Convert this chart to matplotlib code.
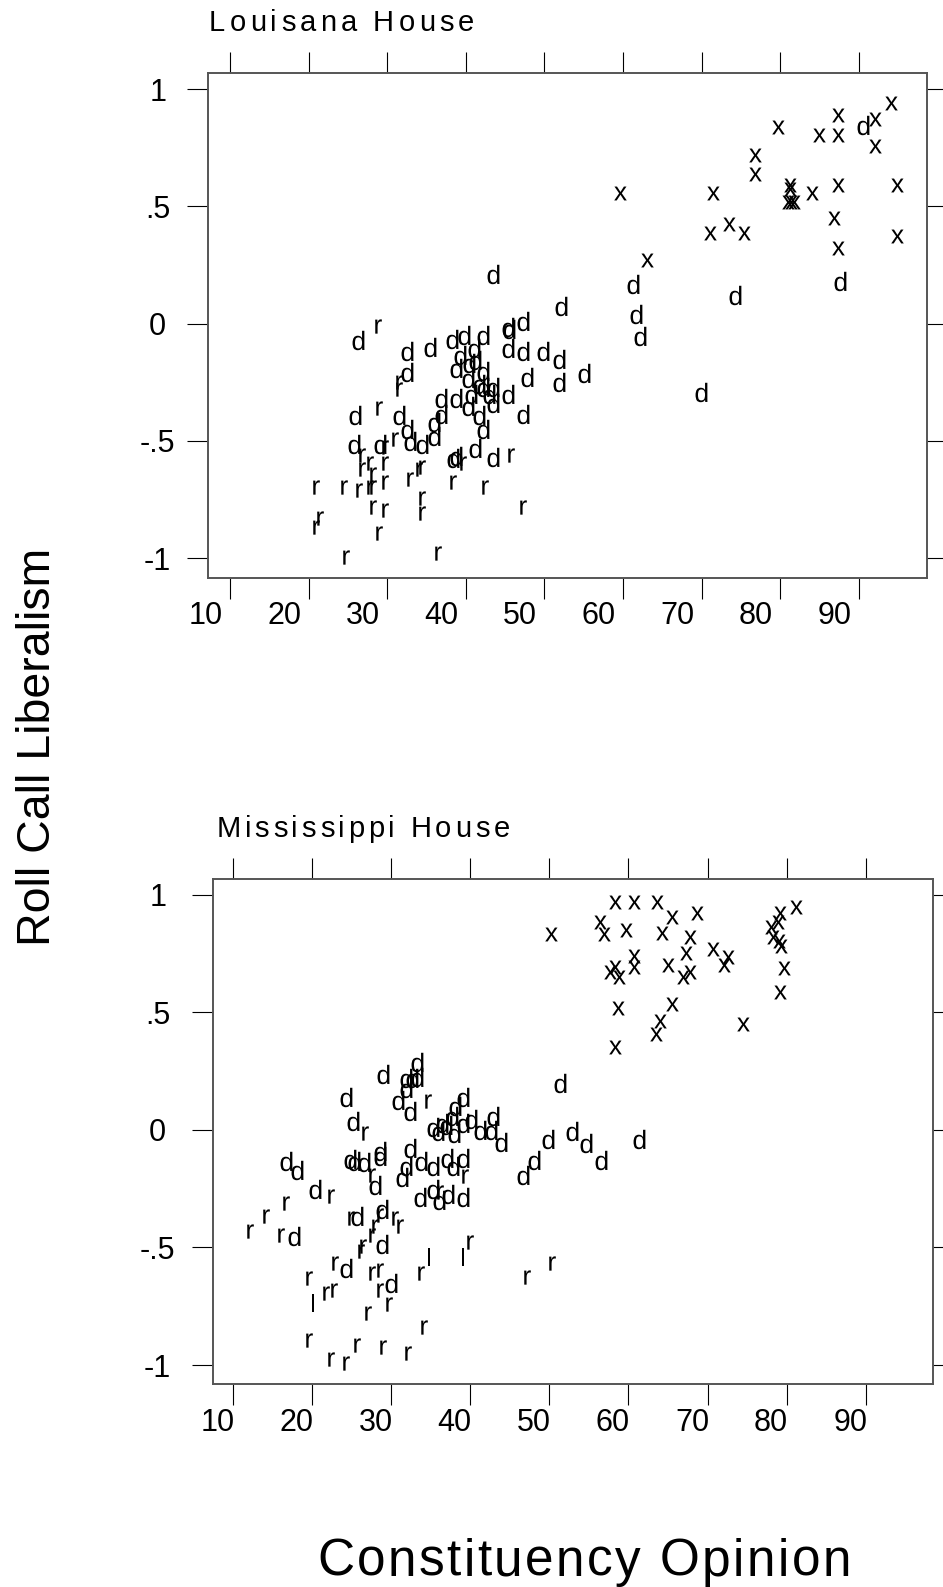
import matplotlib
matplotlib.use('Agg')
import matplotlib.pyplot as plt
from matplotlib import font_manager
from matplotlib.ft2font import FT2Font
from matplotlib.transforms import ScaledTranslation

FAMILY = 'Liberation Sans'
plt.rcParams['font.family'] = [FAMILY, 'DejaVu Sans']
plt.rcParams['mathtext.fontset'] = 'custom'
plt.rcParams['mathtext.rm'] = FAMILY

W, H, DPI = 943, 1587, 100

x_ticks = [10, 20, 30, 40, 50, 60, 70, 80, 90]
x_labels = ['10', '20', '30', '40', '50', '60', '70', '80', '90']
y_ticks = [-1, -0.5, 0, 0.5, 1]
y_labels = ['-1', '-.5', '0', '.5', '1']

# Louisana House: constituency opinion / roll call liberalism, by letter
la_d_x = [43.5, 52.1, 26.3, 32.5, 35.4, 38.3, 39.8, 42.2, 41.0, 39.3, 40.4, 41.2, 38.75, 40.3,
          42.2, 41.7, 42.2, 43.5, 43.0, 43.5, 45.4, 45.4, 45.5, 47.3, 45.4, 47.3, 49.8, 51.8,
          51.9, 55.1, 47.8, 47.3, 32.5, 25.9, 31.5, 32.5, 32.9, 34.4, 35.9, 35.9, 36.8, 36.8,
          38.75, 40.7, 40.3, 41.7, 42.2, 41.2, 43.5, 38.75, 38.4, 25.8, 29.1, 61.3, 87.6, 74.25,
          61.7, 62.1, 69.9, 90.5]
la_d_y = [0.20, 0.065, -0.08, -0.127, -0.11, -0.077, -0.059, -0.059, -0.113, -0.145, -0.178, -0.167, -0.198, -0.241,
          -0.213, -0.266, -0.28, -0.28, -0.312, -0.347, -0.312, -0.027, -0.035, 0.0, -0.113, -0.127, -0.127, -0.16,
          -0.26, -0.22, -0.24, -0.397, -0.215, -0.40, -0.40, -0.46, -0.51, -0.525, -0.49, -0.428, -0.396, -0.326,
          -0.326, -0.312, -0.361, -0.40, -0.46, -0.542, -0.58, -0.575, -0.585, -0.525, -0.525, 0.16, 0.17, 0.112,
          0.03, -0.063, -0.30, 0.835]
la_r_x = [28.8, 31.5, 31.5, 28.9, 31.0, 45.8, 39.7, 26.8, 29.7, 27.8, 26.75, 28.15, 29.7, 29.7, 27.8,
          28.2, 26.45, 24.5, 21.0, 32.9, 34.0, 34.4, 38.4, 42.4, 34.4, 34.4, 28.15, 29.7, 21.45, 20.9,
          28.9, 47.3, 24.8, 36.4]
la_r_y = [-0.01, -0.25, -0.28, -0.361, -0.49, -0.56, -0.596, -0.56, -0.525, -0.596, -0.62, -0.64, -0.596, -0.674, -0.695,
          -0.695, -0.71, -0.695, -0.695, -0.66, -0.62, -0.61, -0.674, -0.695, -0.745, -0.809, -0.781, -0.795, -0.83, -0.866,
          -0.894, -0.781, -0.994, -0.977]
la_x_x = [94.05, 87.3, 92.1, 79.7, 85.0, 87.3, 92.1, 76.8, 76.8, 59.6, 71.5, 81.2, 81.2, 81.0, 81.4,
          81.8, 84.0, 87.3, 94.9, 86.8, 94.9, 87.3, 71.07, 73.5, 75.4, 63.0]
la_x_y = [0.942, 0.889, 0.871, 0.84, 0.804, 0.804, 0.757, 0.72, 0.638, 0.558, 0.558, 0.59, 0.575, 0.52, 0.52,
          0.52, 0.555, 0.59, 0.59, 0.449, 0.373, 0.321, 0.388, 0.425, 0.388, 0.271]

# Mississippi House
ms_d_x = [33.25, 29.0, 31.9, 32.6, 33.25, 31.9, 24.3, 30.9, 32.4, 38.1, 39.1, 25.2, 35.35, 35.9, 36.5,
          37.0, 37.7, 38.0, 39.15, 40.1, 41.3, 42.7, 42.85, 43.9, 32.4, 24.8, 25.3, 26.6, 28.6, 28.6,
          28.0, 16.7, 18.1, 20.4, 17.7, 31.4, 31.9, 33.8, 35.3, 37.1, 37.8, 39.1, 33.7, 35.3, 36.1,
          37.25, 39.1, 25.7, 28.9, 28.9, 24.3, 30.0, 51.4, 49.9, 52.9, 54.65, 61.4, 48.1, 46.65, 56.6]
ms_d_y = [0.276, 0.229, 0.209, 0.209, 0.215, 0.167, 0.127, 0.116, 0.07, 0.092, 0.127, 0.025, 0.002, -0.015, 0.02,
          0.01, 0.049, -0.026, 0.02, 0.035, -0.012, -0.012, 0.049, -0.064, -0.086, -0.135, -0.145, -0.148, -0.10, -0.12,
          -0.244, -0.142, -0.18, -0.263, -0.461, -0.21, -0.164, -0.145, -0.164, -0.13, -0.164, -0.13, -0.298, -0.263, -0.31,
          -0.285, -0.295, -0.376, -0.347, -0.496, -0.598, -0.66, 0.19, -0.05, -0.017, -0.067, -0.05, -0.139, -0.202, -0.139]
ms_r_x = [34.7, 26.7, 27.6, 22.4, 16.75, 14.2, 12.2, 16.1, 39.35, 36.2, 25.0, 28.6, 30.5, 31.1, 28.0,
          27.6, 26.5, 26.2, 22.9, 27.6, 28.6, 19.6, 21.8, 22.85, 28.6, 29.7, 27.1, 33.75, 40.0, 34.2,
          19.6, 25.7, 29.0, 32.2, 22.4, 24.3, 50.4, 47.15]
ms_r_y = [0.124, -0.012, -0.19, -0.28, -0.31, -0.366, -0.428, -0.447, -0.196, -0.263, -0.376, -0.36, -0.376, -0.41, -0.41,
          -0.447, -0.496, -0.514, -0.568, -0.61, -0.596, -0.631, -0.695, -0.68, -0.68, -0.74, -0.777, -0.607, -0.475, -0.84,
          -0.893, -0.915, -0.925, -0.947, -0.976, -0.993, -0.565, -0.624]
ms_l_x = [20.1, 34.8, 39.1]
ms_l_y = [-0.745, -0.551, -0.551]
ms_x_x = [58.3, 60.7, 63.6, 65.5, 68.7, 56.4, 56.9, 59.7, 64.3, 67.8, 50.2, 67.3, 70.65, 60.7, 60.7,
          58.3, 57.7, 58.85, 65.0, 66.95, 67.8, 72.1, 72.6, 79.2, 78.9, 78.0, 78.3, 79.0, 79.25, 79.7,
          79.2, 81.2, 58.7, 65.5, 64.0, 63.5, 58.3, 74.5]
ms_x_y = [0.97, 0.97, 0.97, 0.906, 0.923, 0.885, 0.833, 0.85, 0.836, 0.819, 0.833, 0.75, 0.767, 0.739, 0.694,
          0.691, 0.672, 0.651, 0.701, 0.651, 0.672, 0.701, 0.734, 0.921, 0.885, 0.864, 0.822, 0.805, 0.782, 0.687,
          0.585, 0.946, 0.517, 0.535, 0.464, 0.408, 0.351, 0.45]

# letter symbols; size = largest side of the glyph in points
sym_size = {'d': 14.0, 'r': 10.3, 'x': 10.0, 'l': 13.5}
# tall letters sit on the x-height: raise them a little (pixels)
sym_lift = {'d': 2.5, 'r': 0, 'x': 0, 'l': 2.5}

fig = plt.figure(figsize=(W / DPI, H / DPI), dpi=DPI)


def spaced(x0, x1, base, s, size):
    # letter-spaced text between pixel x0 and x1, baseline at pixel row base
    font = FT2Font(font_manager.findfont(font_manager.FontProperties(family=FAMILY)))
    font.set_size(size, DPI)
    adv = [font.load_char(ord(c)).linearHoriAdvance / 65536 for c in s]
    track = (x1 - x0 - sum(adv)) / (len(s) - 1)
    pos = x0
    for c, a in zip(s, adv):
        if c != ' ':
            fig.text(pos / W, 1 - base / H, c, fontsize=size, ha='left', va='baseline')
        pos += a + track


def panel(box, xlim, ylim, ypad, xoff, series):
    l, t, r, b = box
    ax = fig.add_axes([l / W, 1 - b / H, (r - l) / W, (b - t) / H])
    for xs, ys, ch in series:
        lift = ScaledTranslation(0, sym_lift[ch] / DPI, fig.dpi_scale_trans)
        ax.plot(xs, ys, ls='none', marker=r'$\mathrm{%s}$' % ch, ms=sym_size[ch],
                mew=0, color='black', transform=ax.transData + lift)
    ax.set_xlim(*xlim)
    ax.set_ylim(*ylim)
    ax.set_xticks(x_ticks)
    ax.set_xticklabels(x_labels)
    ax.set_yticks(y_ticks)
    ax.set_yticklabels(y_labels)
    ax.tick_params(direction='out', length=15, width=0.8, top=True, right=True, labelsize=22)
    ax.tick_params(axis='x', pad=2)
    ax.tick_params(axis='y', pad=ypad)
    for sp in ax.spines.values():
        sp.set_linewidth(1.4)
        sp.set_color('#555555')
    for lab in ax.get_yticklabels():
        lab.set_ha('center')
    off = ScaledTranslation(xoff / DPI, 0, fig.dpi_scale_trans)
    for lab in ax.get_xticklabels():
        lab.set_transform(lab.get_transform() + off)
    return ax


panel((208, 73, 926.7, 577.7), (7.2, 98.64), (-1.0827, 1.0682), 21.2, -24.5,
      [(la_d_x, la_d_y, 'd'), (la_r_x, la_r_y, 'r'), (la_x_x, la_x_y, 'x')])
panel((213.3, 879.3, 932.7, 1384.3), (7.55, 98.45), (-1.082, 1.0655), 25.0, -15.5,
      [(ms_d_x, ms_d_y, 'd'), (ms_r_x, ms_r_y, 'r'), (ms_l_x, ms_l_y, 'l'), (ms_x_x, ms_x_y, 'x')])

spaced(209, 474, 31, 'Louisana House', 21)
spaced(216.5, 509.5, 837, 'Mississippi House', 21)
spaced(317, 851, 1576, 'Constituency Opinion', 37)
fig.text(50 / W, 1 - 747 / H, 'Roll Call Liberalism', fontsize=33.5, rotation=90,
         rotation_mode='anchor', ha='center', va='baseline')

fig.savefig('out.png', dpi=DPI)
